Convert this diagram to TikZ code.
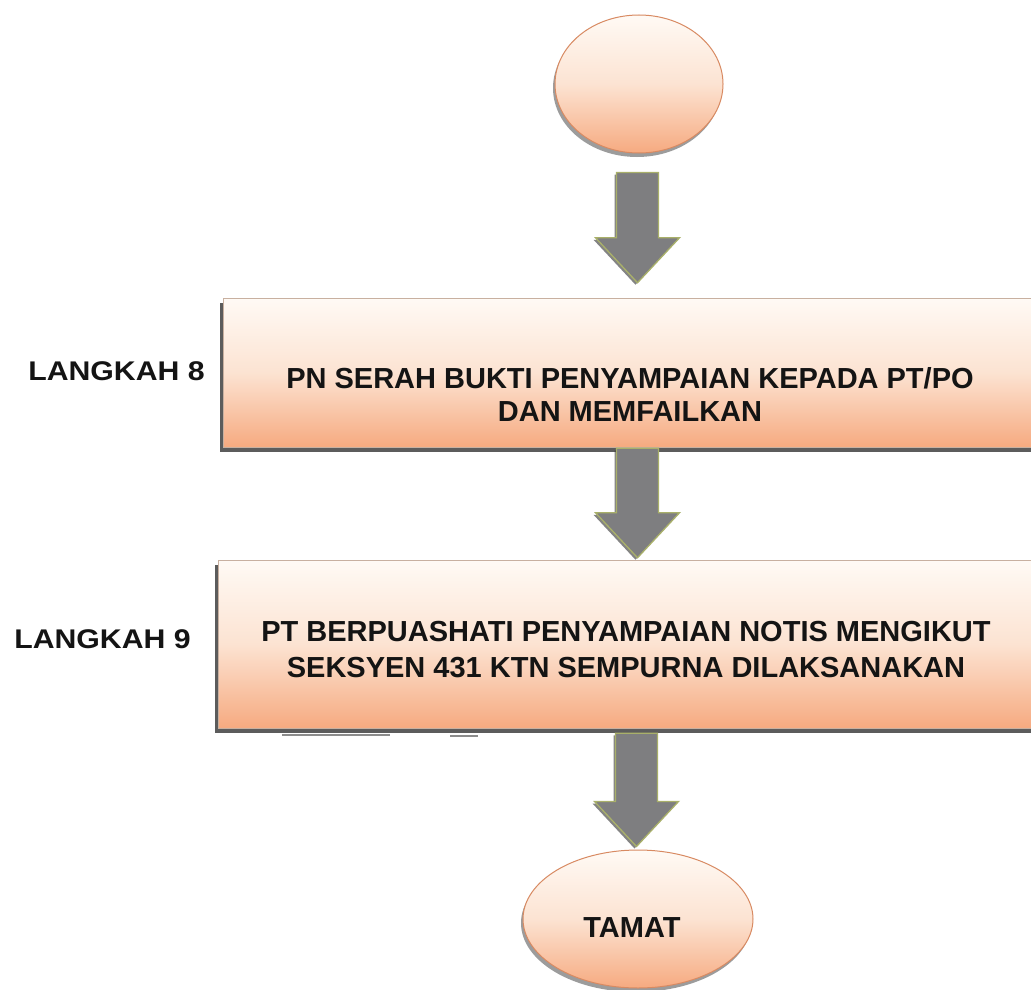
\documentclass[tikz,border=0pt]{standalone}
\usepackage{fontspec}
\setmainfont{Liberation Sans}
\usetikzlibrary{shapes.geometric,shadows,calc}
\definecolor{peachtop}{HTML}{FFFAF5}
\definecolor{peachmid}{HTML}{FCE3D2}
\definecolor{peachbot}{HTML}{F6AA80}
\definecolor{arrowgray}{HTML}{7E7E80}
\definecolor{arrowedge}{HTML}{A9B06A}
\definecolor{ovaledge}{HTML}{D88A62}
\definecolor{boxedge}{HTML}{C8B0A0}
\newcommand{\blockarrow}[2]{%
  \draw[blockarr] ($(#1)+(-21,0)$) -- ($(#1)+(21,0)$) -- ($(#2)+(21,-45)$)
    -- ($(#2)+(42,-45)$) -- (#2) -- ($(#2)+(-42,-45)$) -- ($(#2)+(-21,-45)$) -- cycle;}
\begin{document}
\begin{tikzpicture}[x=1pt,y=-1pt,
  stepbox/.style={rectangle, inner sep=0pt, top color=peachtop, bottom color=peachbot,
    middle color=peachmid,
    draw=boxedge, line width=0.5pt,
    drop shadow={shadow xshift=-3pt, shadow yshift=-5pt, fill=black!75, opacity=0.85}},
  oval/.style={ellipse, inner sep=0pt, top color=peachtop, bottom color=peachbot,
    middle color=peachmid,
    draw=ovaledge, line width=1pt,
    drop shadow={shadow xshift=-2pt, shadow yshift=-4pt, fill=black!55, opacity=0.7}},
  boxtext/.style={align=center, font=\fontsize{29}{33}\selectfont\bfseries, text=black!92, inner sep=0pt},
  steplabel/.style={font=\fontsize{27}{30}\selectfont\bfseries, xscale=1.12, text=black!92, inner sep=0pt},
  blockarr/.style={fill=arrowgray, draw=arrowedge, line width=1.3pt, line join=miter,
    drop shadow={shadow xshift=-2pt, shadow yshift=-2pt, fill=black!80, opacity=0.6}},
  ]
\clip (0,0) rectangle (1031,990);
\fill[white] (0,0) rectangle (1031,990);

% nodes
\node[oval, minimum width=168pt, minimum height=138pt] (start) at (639,84) {};
\node[stepbox, minimum width=817pt, minimum height=149pt] (box1) at (631.5,372.5) {};
\node[boxtext] (t1) at (630,394) {PN SERAH BUKTI PENYAMPAIAN KEPADA PT/PO\\DAN MEMFAILKAN};
\node[stepbox, minimum width=818pt, minimum height=168pt] (box2) at (627,644) {};
\node[boxtext, font=\fontsize{29}{36}\selectfont\bfseries] (t2) at (626,650)
  {PT BERPUASHATI PENYAMPAIAN NOTIS MENGIKUT\\SEKSYEN 431 KTN SEMPURNA DILAKSANAKAN};
\node[oval, minimum width=230pt, minimum height=138pt] (finish) at (638,919) {};
\node[boxtext] (tamat) at (632,928) {TAMAT};

\node[steplabel] (l8) at (116.5,371) {LANGKAH 8};
\node[steplabel] (l9) at (102.5,639) {LANGKAH 9};

% block arrows
\coordinate (a1top) at ($(start.south)+(-1.5,19)$);
\coordinate (a1tip) at ($(a1top |- box1.north)+(0,-15)$);
\blockarrow{a1top}{a1tip}
\coordinate (a2top) at ($(a1top |- box1.south)+(0,1)$);
\coordinate (a2tip) at ($(a1top |- box2.north)+(0,-2)$);
\blockarrow{a2top}{a2tip}
\coordinate (a3top) at ($(a1top |- box2.south)+(-1,5)$);
\coordinate (a3tip) at ($(a3top |- finish.north)+(0,-3)$);
\blockarrow{a3top}{a3tip}

% faint scan marks under the second box
\draw[black!45, line width=1.2pt] (282,735) -- (390,735);
\draw[black!45, line width=1.2pt] (450,736) -- (478,736);
\end{tikzpicture}
\end{document}
